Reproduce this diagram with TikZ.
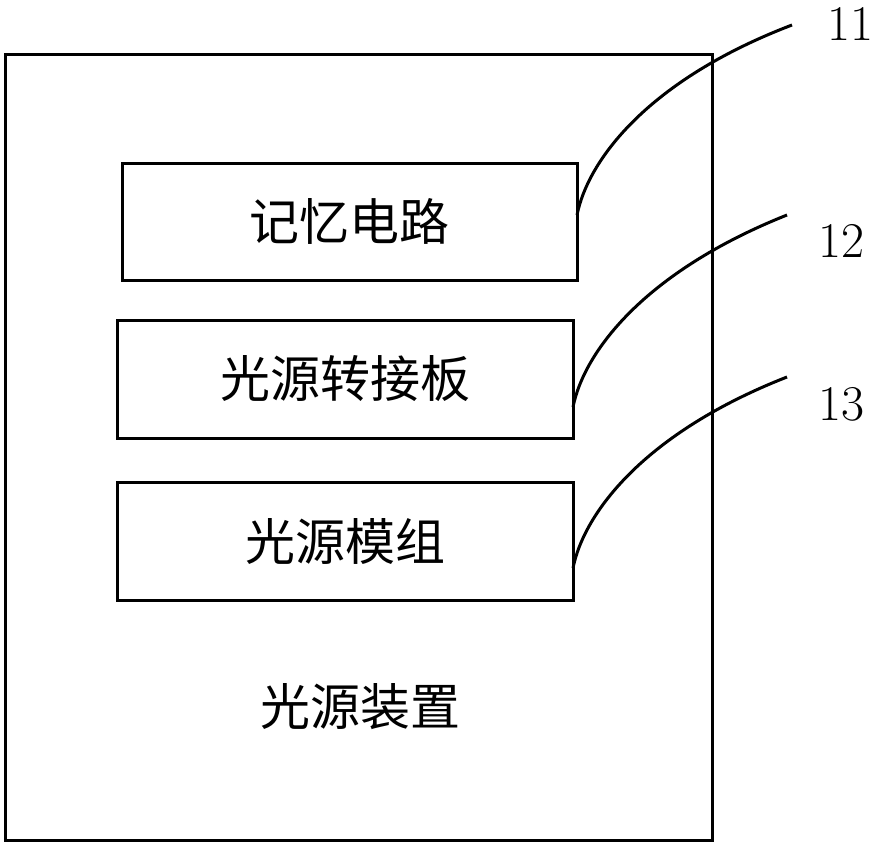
\documentclass[tikz,border=0pt]{standalone}
\usepackage{fontspec}
\newfontfamily\cjk{Noto Sans CJK SC}
\begin{document}
\begin{tikzpicture}[x=1pt,y=-1pt,
  boxline/.style={draw=black,line width=3pt,inner sep=0pt,outer sep=0pt},
  cjktext/.style={font=\cjk\fontsize{50}{54}\selectfont},
  numtext/.style={font=\fontsize{50}{54}\selectfont,inner sep=0pt},
  leader/.style={draw=black,line width=3pt}]
\useasboundingbox (0,0) rectangle (877,847);
\node[boxline,minimum width=707pt,minimum height=786pt] (outer) at (358.5,447) {};
\node[boxline,cjktext,minimum width=455pt,minimum height=117pt] (b1) at (349.5,221.5) {记忆电路};
\node[boxline,cjktext,minimum width=456pt,minimum height=118pt] (b2) at (345,379) {光源转接板};
\node[boxline,cjktext,minimum width=456pt,minimum height=118pt] (b3) at (345,541) {光源模组};
\node[cjktext] (dev) at (360,707) {光源装置};
\node[numtext] (n11) at (850,24) {11};
\node[numtext] (n12) at (841,241) {12};
\node[numtext] (n13) at (841,404) {13};
\coordinate (s1) at ([yshift=6.5pt]b1.east);
\coordinate (s2) at ([yshift=-28pt]b2.east);
\coordinate (s3) at ([yshift=-27pt]b3.east);
\coordinate (e1) at (792,25);
\coordinate (e2) at (787,215);
\coordinate (e3) at (787,377);
\draw[leader] (s1) .. controls ([shift={(11,-55)}]s1) and ([shift={(71,-135)}]s1) .. (e1);
\draw[leader] (s2) .. controls ([shift={(11,-55)}]s2) and ([shift={(71,-135)}]s2) .. (e2);
\draw[leader] (s3) .. controls ([shift={(11,-55)}]s3) and ([shift={(71,-135)}]s3) .. (e3);
\end{tikzpicture}
\end{document}
